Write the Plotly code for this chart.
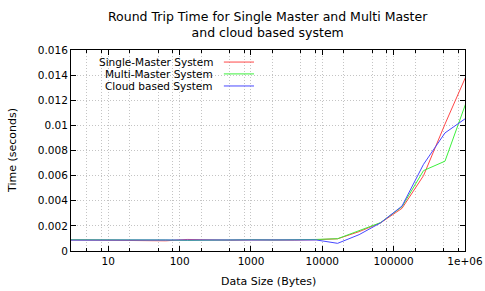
import plotly.graph_objects as go

# data sizes (bytes) and round trip times (seconds)
data_size = [3, 8, 16, 32, 64, 128, 256, 512, 1024, 2048, 4096, 8192,
             16384, 32768, 65536, 131072, 262144, 524288, 1048576]
single_master = [0.00088, 0.00087, 0.00087, 0.00085, 0.00081, 0.00092, 0.00087, 0.00086,
                 0.00088, 0.00086, 0.00087, 0.00090, 0.00097, 0.00154, 0.00224, 0.00340,
                 0.00600, 0.01010, 0.01400]
multi_master = [0.00090, 0.00091, 0.00089, 0.00087, 0.00088, 0.00084, 0.00088, 0.00089,
                0.00090, 0.00088, 0.00088, 0.00092, 0.00098, 0.00165, 0.00226, 0.00353,
                0.00640, 0.00715, 0.01190]
cloud_based = [0.00087, 0.00087, 0.00086, 0.00086, 0.00087, 0.00087, 0.00086, 0.00087,
               0.00087, 0.00087, 0.00086, 0.00088, 0.00061, 0.00130, 0.00224, 0.00358,
               0.00690, 0.00940, 0.01060]

series_names = ["Single-Master System", "Multi-Master System", "Cloud based System"]
series_colors = ["#ff4848", "#3cf03c", "#4848ff"]

x_major = [10, 100, 1000, 10000, 100000, 1000000]
x_major_text = ["10", "100", "1000", "10000", "100000", "1e+06"]
x_minor = [5, 8, 20, 50, 80, 200, 500, 800, 2000, 5000, 8000, 20000, 50000, 80000,
           200000, 500000, 800000]
y_ticks = [0, 0.002, 0.004, 0.006, 0.008, 0.01, 0.012, 0.014, 0.016]
y_text = ["0", "0.002", "0.004", "0.006", "0.008", "0.01", "0.012", "0.014", "0.016"]

fig = go.Figure()
for name, ys, col in zip(series_names, [single_master, multi_master, cloud_based], series_colors):
    fig.add_trace(go.Scatter(x=data_size, y=ys, mode="lines", name=name,
                             line=dict(color=col, width=1), showlegend=False))

# gnuplot-style legend: right aligned text followed by a line sample
leg_y = [0.940, 0.881, 0.821]
for name, col, ly in zip(series_names, series_colors, leg_y):
    fig.add_annotation(x=0.366, y=ly, xref="paper", yref="paper", text=name,
                       showarrow=False, xanchor="right", yanchor="middle",
                       font=dict(size=10.5, color="black"))
    fig.add_shape(type="line", xref="paper", yref="paper", x0=0.388, x1=0.4645,
                  y0=ly, y1=ly, line=dict(color=col, width=1))

# title and axis titles placed as annotations so the margins stay fixed
fig.add_annotation(x=0.5, y=1.127, xref="paper", yref="paper",
                   text="Round Trip Time for Single Master and Multi Master<br>and cloud based system",
                   showarrow=False, xanchor="center", yanchor="middle",
                   font=dict(size=12.5, color="black"))
fig.add_annotation(x=-0.150, y=0.502, xref="paper", yref="paper", text="Time (seconds)",
                   textangle=-90, showarrow=False, xanchor="center", yanchor="middle",
                   font=dict(size=11, color="black"))
fig.add_annotation(x=0.5, y=-0.154, xref="paper", yref="paper", text="Data Size (Bytes)",
                   showarrow=False, xanchor="center", yanchor="middle",
                   font=dict(size=11, color="black"))

grid_col = "#c4c4c4"
grid_dash = "1px,2px"
fig.update_layout(
    width=485, height=291,
    margin=dict(l=71, r=20, t=50, b=40, autoexpand=False),
    plot_bgcolor="white", paper_bgcolor="white",
    font=dict(family="DejaVu Sans", size=10.5, color="black"),
    xaxis=dict(type="log", range=[0.477, 6.0], tickmode="array", tickvals=x_major,
               ticktext=x_major_text, ticks="inside", ticklen=5, tickcolor="black",
               showline=True, linecolor="black", linewidth=1, mirror="ticks",
               showgrid=True, gridcolor=grid_col, griddash=grid_dash, gridwidth=1,
               zeroline=False, automargin=False,
               minor=dict(tickmode="array", tickvals=x_minor, ticks="inside", ticklen=3,
                          tickcolor="black", showgrid=True, gridcolor=grid_col,
                          griddash=grid_dash, gridwidth=1)),
    yaxis=dict(range=[0, 0.016], tickmode="array", tickvals=y_ticks, ticktext=y_text,
               ticks="inside", ticklen=5, tickcolor="black",
               showline=True, linecolor="black", linewidth=1, mirror="ticks",
               showgrid=True, gridcolor=grid_col, griddash=grid_dash, gridwidth=1,
               zeroline=False, automargin=False),
)

# drop the browser's default body margin so the figure sits at the top-left corner
fig.write_html("out.html", config={"displayModeBar": False},
               post_script="document.body.style.margin='0';")
